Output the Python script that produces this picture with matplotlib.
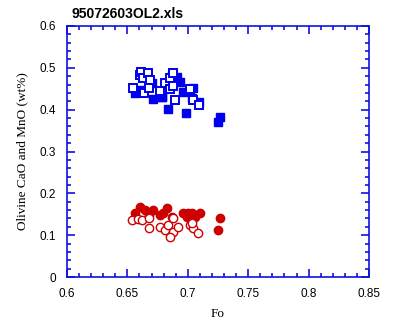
import matplotlib
matplotlib.use("Agg")
import matplotlib.pyplot as plt
from matplotlib.ticker import MultipleLocator

# CaO (blue squares) and MnO (red circles) in olivine versus forsterite content
cao_filled_fo = [0.6563, 0.6604, 0.6706, 0.6714, 0.6789, 0.6834, 0.6908, 0.6935, 0.6963,
                 0.6985, 0.7046, 0.7032, 0.7095, 0.7267, 0.7253, 0.6784, 0.6867]
cao_filled_wt = [0.439, 0.447, 0.464, 0.425, 0.430, 0.401, 0.479, 0.467, 0.443,
                 0.393, 0.451, 0.427, 0.419, 0.383, 0.370, 0.431, 0.483]

cao_open_fo = [0.6544, 0.6604, 0.6613, 0.6632, 0.6673, 0.6687, 0.6637, 0.6681, 0.6770,
               0.6811, 0.6853, 0.6875, 0.6853, 0.6880, 0.6894, 0.7018, 0.7041, 0.7095]
cao_open_wt = [0.451, 0.483, 0.491, 0.475, 0.487, 0.471, 0.439, 0.451, 0.445,
               0.463, 0.475, 0.487, 0.449, 0.456, 0.423, 0.449, 0.423, 0.411]

mno_filled_fo = [0.6563, 0.6604, 0.6646, 0.6681, 0.6714, 0.6770, 0.6797, 0.6825, 0.6867,
                 0.6963, 0.6991, 0.7004, 0.7032, 0.7060, 0.7101, 0.7267, 0.7253]
mno_filled_wt = [0.152, 0.168, 0.160, 0.148, 0.160, 0.148, 0.152, 0.164, 0.144,
                 0.152, 0.144, 0.152, 0.152, 0.144, 0.152, 0.142, 0.112]

mno_open_fo = [0.6536, 0.6590, 0.6618, 0.6681, 0.6681, 0.6770, 0.6811, 0.6839, 0.6880,
               0.6880, 0.6853, 0.6921, 0.7018, 0.7046, 0.7087, 0.7032]
mno_open_wt = [0.136, 0.139, 0.136, 0.140, 0.116, 0.120, 0.112, 0.124, 0.140,
               0.108, 0.096, 0.120, 0.124, 0.116, 0.104, 0.128]

x_ticks = [0.6, 0.65, 0.7, 0.75, 0.8, 0.85]
x_tick_labels = ["0.6", "0.65", "0.7", "0.75", "0.8", "0.85"]
y_ticks = [0, 0.1, 0.2, 0.3, 0.4, 0.5, 0.6]
y_tick_labels = ["0", "0.1", "0.2", "0.3", "0.4", "0.5", "0.6"]

BLUE = "#0000ee"
RED = "#cc0000"
AXIS = "#1010e0"

fig = plt.figure(figsize=(3.95, 3.22), dpi=100)
ax = fig.add_axes([67 / 395, 1 - 277 / 322, 302 / 395, 251 / 322])

ax.plot(cao_filled_fo, cao_filled_wt, "s", ms=6, mfc=BLUE, mec=BLUE, mew=1, zorder=3)
ax.plot(cao_open_fo, cao_open_wt, "s", ms=6, mfc="white", mec=BLUE, mew=1.4, zorder=4)
ax.plot(mno_filled_fo, mno_filled_wt, "o", ms=6, mfc=RED, mec=RED, mew=1, zorder=3)
ax.plot(mno_open_fo, mno_open_wt, "o", ms=6, mfc="white", mec=RED, mew=1.0, zorder=4)

ax.set_xlim(0.6, 0.85)
ax.set_ylim(0, 0.6)
ax.set_xticks(x_ticks)
ax.set_xticklabels(x_tick_labels)
ax.set_yticks(y_ticks)
ax.set_yticklabels(y_tick_labels)
ax.xaxis.set_minor_locator(MultipleLocator(0.01))
ax.yaxis.set_minor_locator(MultipleLocator(0.02))

for s in ax.spines.values():
    s.set_color(AXIS)
    s.set_linewidth(1.2)
ax.tick_params(which="both", direction="in", top=True, right=True, color=AXIS, width=1.2)
ax.tick_params(which="major", length=6, pad=8)
ax.tick_params(which="minor", length=3)
for lab in ax.get_xticklabels() + ax.get_yticklabels():
    lab.set_fontfamily("Liberation Sans")
    lab.set_fontsize(8.5)

ax.set_xlabel("Fo", fontfamily="Liberation Serif", fontsize=9.5, labelpad=6)
ax.set_ylabel("Olivine CaO and MnO (wt%)", fontfamily="Liberation Serif", fontsize=9.5, labelpad=8)

fig.text(72 / 395, 1 - 14 / 322, "95072603OL2.xls", fontfamily="Liberation Sans",
         fontweight="bold", fontsize=10, va="center", ha="left")

fig.savefig("out.png", dpi=100, facecolor="white")
